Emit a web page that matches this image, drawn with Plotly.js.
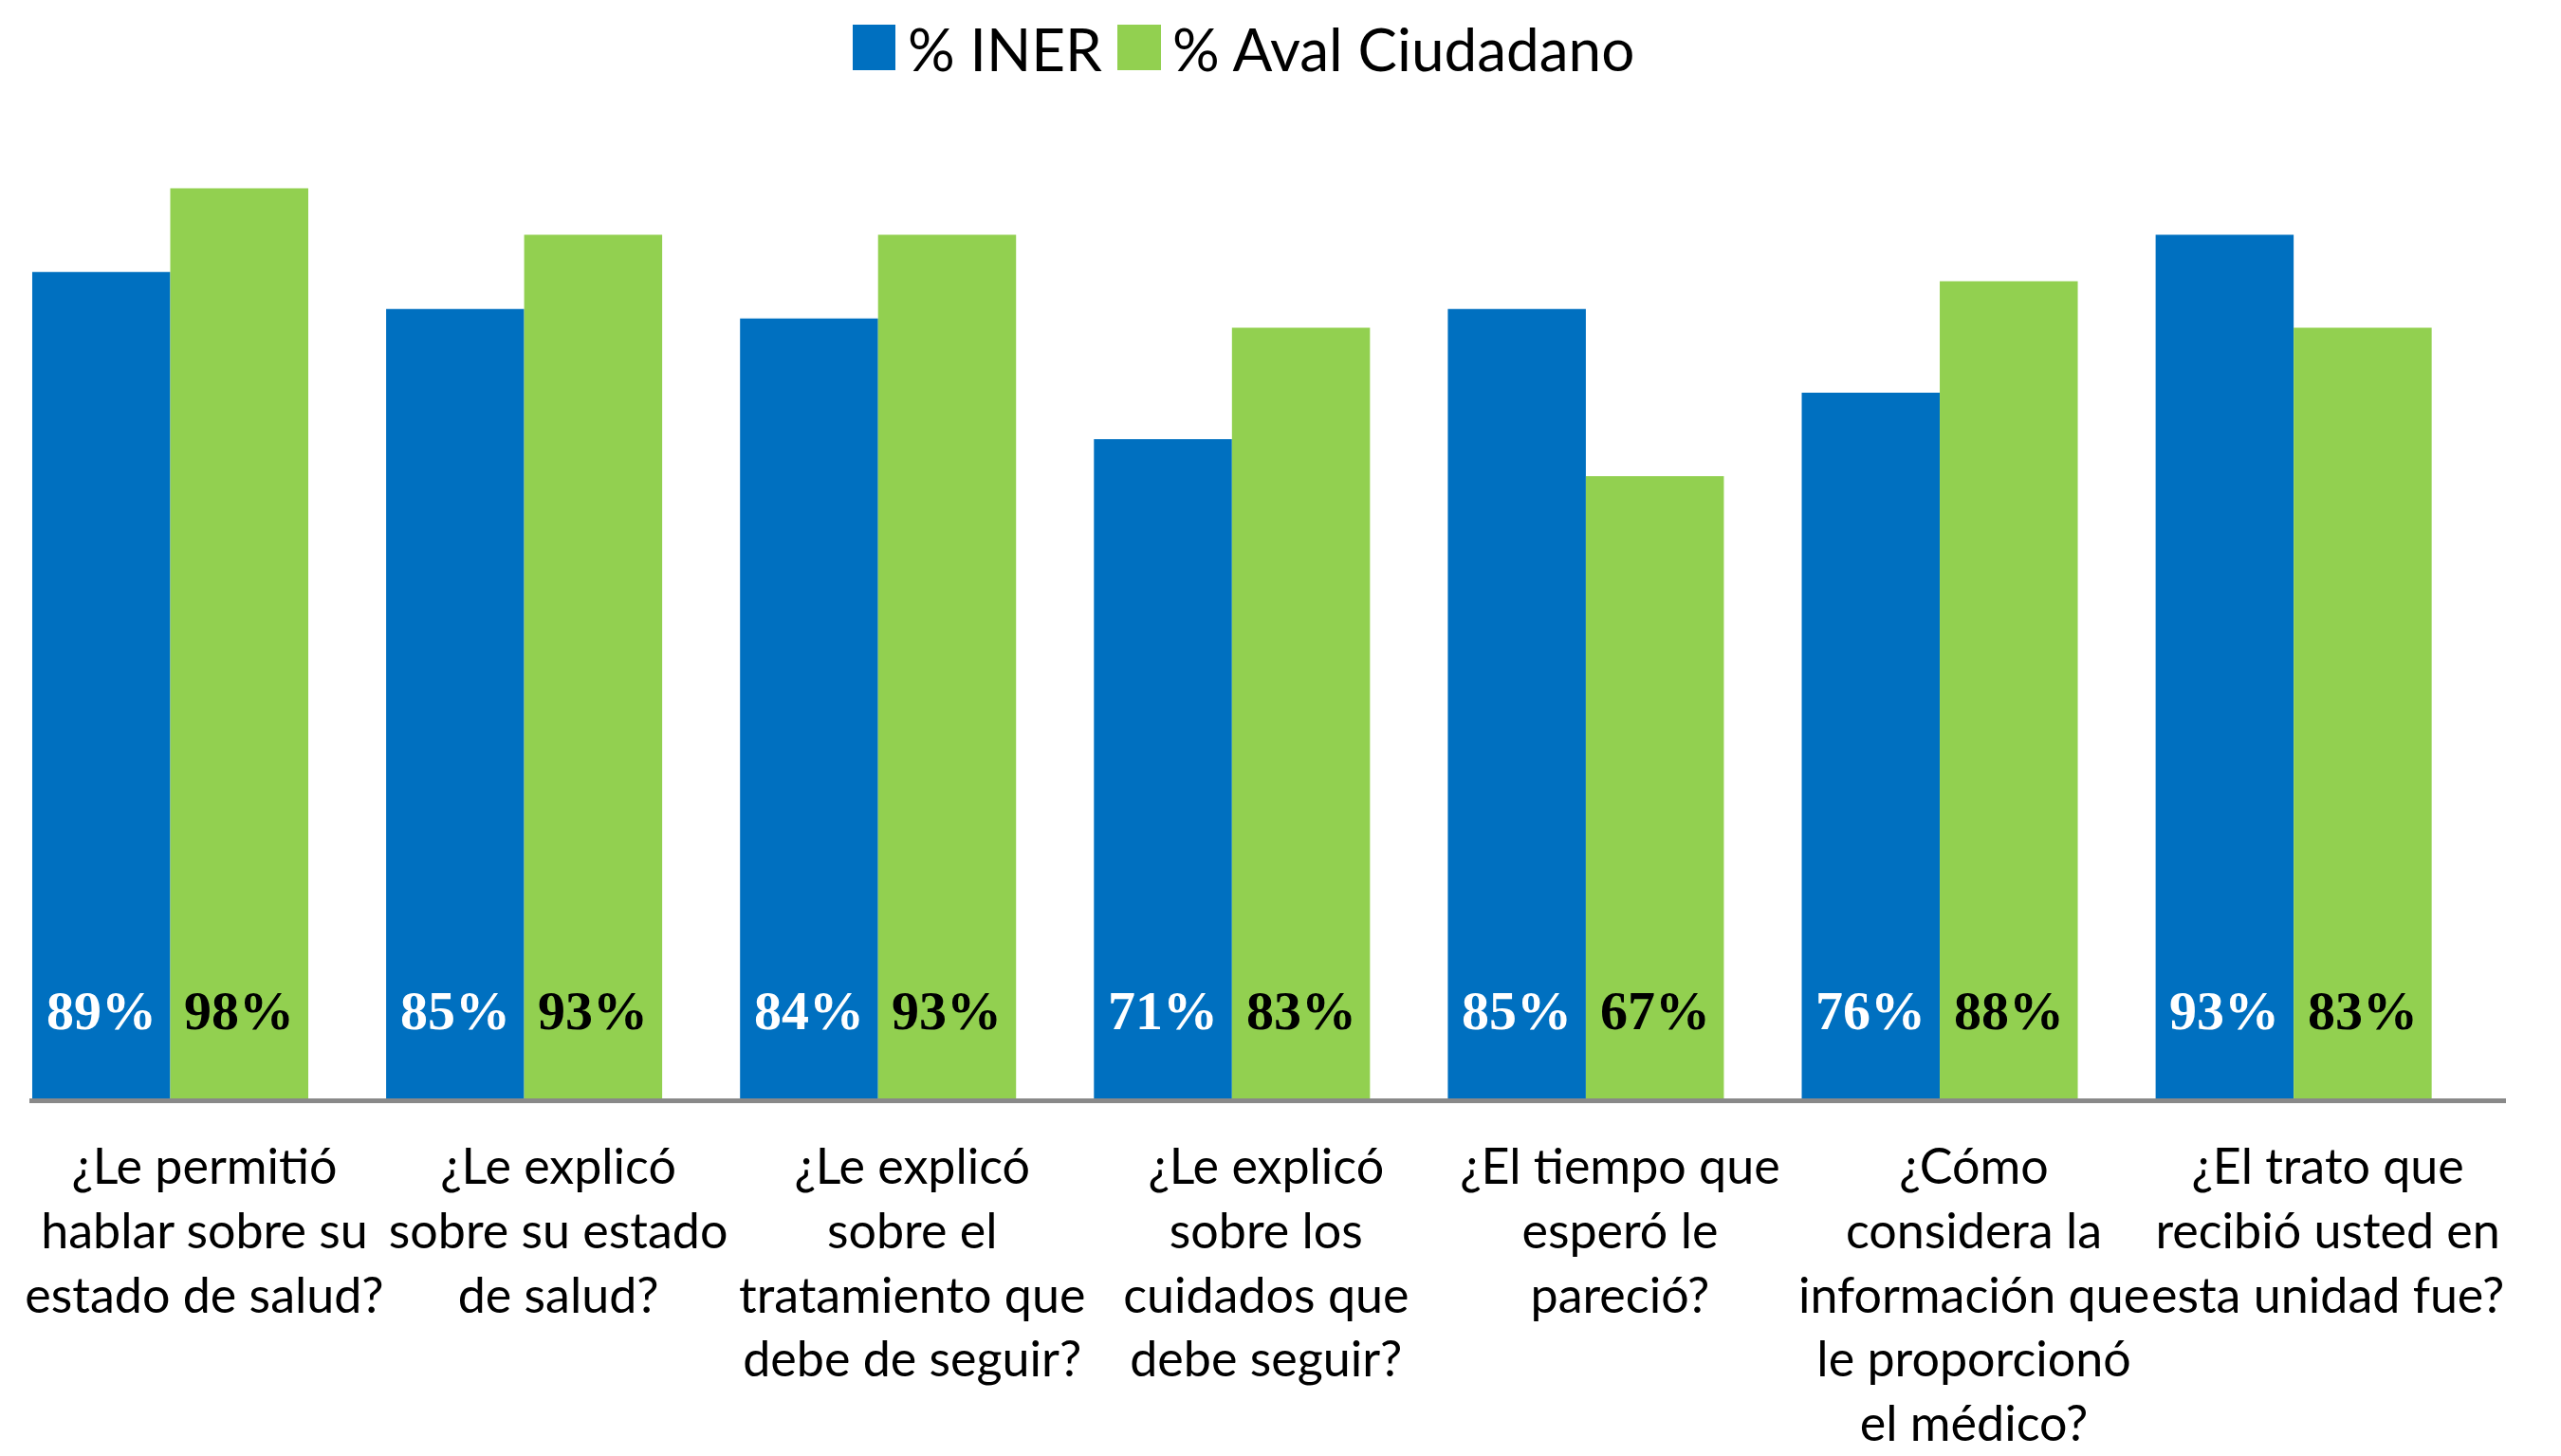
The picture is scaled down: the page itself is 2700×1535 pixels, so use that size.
<!DOCTYPE html>
<html>
<head>
<meta charset="utf-8">
<script src="https://cdn.plot.ly/plotly-3.0.1.min.js"></script>
<style>
  html, body { margin: 0; padding: 0; background: #ffffff; }
  #chart { width: 2700px; height: 1535px; }
</style>
</head>
<body>
<div id="chart"></div>
<script>
// ---- Data ----
const categories = [
  "¿Le permitió<br>hablar sobre su<br>estado de salud?",
  "¿Le explicó<br>sobre su estado<br>de salud?",
  "¿Le explicó<br>sobre el<br>tratamiento que<br>debe de seguir?",
  "¿Le explicó<br>sobre los<br>cuidados que<br>debe seguir?",
  "¿El tiempo que<br>esperó le<br>pareció?",
  "¿Cómo<br>considera la<br>información que<br>le proporcionó<br>el médico?",
  "¿El trato que<br>recibió usted en<br>esta unidad fue?"
];
const inerValues = [89, 85, 84, 71, 85, 76, 93];
const avalValues = [98, 93, 93, 83, 67, 88, 83];
const seriesNames = ["% INER", "% Aval Ciudadano"];
const seriesColors = ["#0070C0", "#92D050"];
const labelColors = ["#FFFFFF", "#000000"];

// ---- Layout constants ----
const W = 2700, H = 1535;
const margin = { l: 31, r: 58, t: 179, b: 377, pad: 0 };
const xRange = [-0.398, 6.6];
const yRange = [0, 100];
const bargap = 0.22;
const labelY = 9.4;

const plotW = W - margin.l - margin.r;
const plotH = H - margin.t - margin.b;
const pxPerUnit = plotW / (xRange[1] - xRange[0]);
const barHalfPx = ((1 - bargap) / 2) * pxPerUnit / 2;

const traces = [inerValues, avalValues].map((vals, i) => ({
  type: "bar",
  name: seriesNames[i],
  x: categories,
  y: vals,
  marker: { color: seriesColors[i], line: { width: 0 } },
  showlegend: false,
  hoverinfo: "skip"
}));

// value labels (drawn through the axes: x = category, y = data value)
const annotations = [];
[inerValues, avalValues].forEach((vals, i) => {
  vals.forEach((v, k) => {
    annotations.push({
      xref: "x", yref: "y",
      x: categories[k], y: labelY,
      xshift: (i === 0 ? -1 : 1) * barHalfPx,
      text: v + "%",
      showarrow: false,
      font: { family: "Liberation Serif, Times New Roman, serif", size: 58, color: labelColors[i], weight: "bold" },
      xanchor: "center", yanchor: "middle"
    });
  });
});

// custom legend (pixel positions converted to paper coords)
const px2paperX = px => (px - margin.l) / plotW;
const px2paperY = py => (H - margin.b - py) / plotH;
const legendItems = [
  { sx0: 899, sx1: 944, tx: 955 },
  { sx0: 1178, sx1: 1224, tx: 1234 }
];
const shapes = [];
legendItems.forEach((it, i) => {
  shapes.push({
    type: "rect", xref: "paper", yref: "paper",
    x0: px2paperX(it.sx0), x1: px2paperX(it.sx1),
    y0: px2paperY(74), y1: px2paperY(26),
    fillcolor: seriesColors[i], line: { width: 0 }
  });
  annotations.push({
    xref: "paper", yref: "paper",
    x: px2paperX(it.tx), y: px2paperY(51),
    xanchor: "left", yanchor: "middle",
    text: seriesNames[i], showarrow: false,
    font: { family: "Lato, Carlito, sans-serif", size: 62, color: "#000000" }
  });
});

const layout = {
  width: W, height: H,
  margin: margin,
  paper_bgcolor: "#ffffff",
  plot_bgcolor: "#ffffff",
  barmode: "group",
  bargap: bargap,
  bargroupgap: 0,
  showlegend: false,
  xaxis: {
    type: "category",
    range: xRange,
    showline: true, linecolor: "#898989", linewidth: 5,
    showgrid: false, zeroline: false,
    ticks: "",
    tickfont: { family: "Lato, Carlito, sans-serif", size: 52, color: "#000000" },
    ticklabelshift: 36,
    ticklabelstandoff: 23,
    tickangle: 0,
    fixedrange: true
  },
  yaxis: {
    range: yRange,
    visible: false,
    showgrid: false, zeroline: false,
    fixedrange: true
  },
  annotations: annotations,
  shapes: shapes
};

Plotly.newPlot("chart", traces, layout, { displayModeBar: false, staticPlot: true });
</script>
</body>
</html>
